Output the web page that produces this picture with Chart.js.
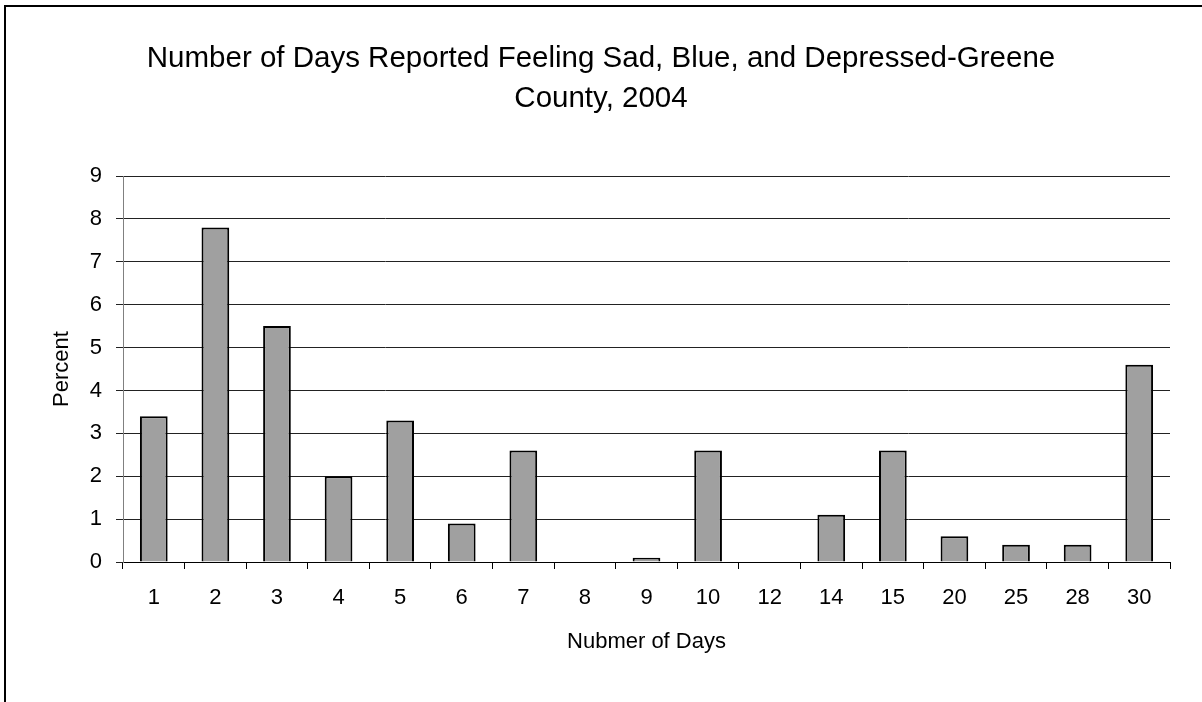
<!DOCTYPE html>
<html>
<head>
<meta charset="utf-8">
<script src="https://cdn.jsdelivr.net/npm/chart.js@4/dist/chart.umd.min.js"></script>
<style>
html,body{margin:0;padding:0;background:#fff;}
#wrap{position:relative;width:1202px;height:702px;}
</style>
</head>
<body>
<div id="wrap"><canvas id="c"></canvas></div>
<script>
const categories = ['1','2','3','4','5','6','7','8','9','10','12','14','15','20','25','28','30'];
const percentValues = [3.4, 7.8, 5.5, 2.0, 3.3, 0.9, 2.6, 0, 0.1, 2.6, 0, 1.1, 2.6, 0.6, 0.4, 0.4, 4.6];
const yMin = 0;
const yMax = 9;
const yStep = 1;
const titleLines = ['Number of Days Reported Feeling Sad, Blue, and Depressed-Greene', 'County, 2004'];
const xTitle = 'Nubmer of Days';
const yTitle = 'Percent';

const FONT = "'Liberation Sans', Arial, sans-serif";

const frame = {
  id: 'frame',
  beforeDraw(chart) {
    const ctx = chart.ctx;
    ctx.save();
    ctx.fillStyle = '#fff';
    ctx.fillRect(0, 0, chart.width, chart.height);
    ctx.strokeStyle = '#000';
    ctx.lineWidth = 2;
    ctx.beginPath();
    ctx.moveTo(5, chart.height);
    ctx.lineTo(5, 6);
    ctx.lineTo(chart.width, 6);
    ctx.stroke();
    ctx.restore();
  }
};

new Chart(document.getElementById('c'), {
  type: 'bar',
  data: {
    labels: categories,
    datasets: [{
      data: percentValues,
      backgroundColor: '#a0a0a0',
      borderColor: '#000',
      borderWidth: 2,
      barPercentage: 0.45,
      categoryPercentage: 1.0
    }]
  },
  options: {
    responsive: true,
    maintainAspectRatio: false,
    animation: false,
    events: [],
    layout: { padding: { left: 32, right: 32, top: 0, bottom: 0 } },
    plugins: {
      legend: { display: false },
      tooltip: { enabled: false },
      title: {
        display: true,
        text: titleLines,
        color: '#000',
        font: { family: FONT, size: 29.5, weight: 'normal', lineHeight: 40/29.5 },
        padding: { top: 39, bottom: 57 }
      }
    },
    scales: {
      x: {
        offset: true,
        afterFit(s) { s.height = 140; },
        grid: { display: true, drawOnChartArea: false, drawTicks: true, tickLength: 7, color: '#000', offset: true },
        border: { display: true, color: '#000', width: 1 },
        ticks: { color: '#000', font: { family: FONT, size: 22 }, padding: 16, maxRotation: 0, autoSkip: false },
        title: { display: true, text: xTitle, color: '#000', font: { family: FONT, size: 22 }, padding: { top: 0, bottom: 47 } }
      },
      y: {
        min: yMin,
        max: yMax,
        afterFit(s) { s.width = 91; },
        grid: { color: '#222', lineWidth: 1, tickLength: 7, drawTicks: true },
        border: { display: true, color: '#808080', width: 1 },
        ticks: { stepSize: yStep, color: '#000', font: { family: FONT, size: 22 }, padding: 14 },
        title: { display: true, text: yTitle, color: '#000', font: { family: FONT, size: 22 }, padding: { top: 17, bottom: 0 } }
      }
    }
  },
  plugins: [frame]
});
</script>
</body>
</html>
